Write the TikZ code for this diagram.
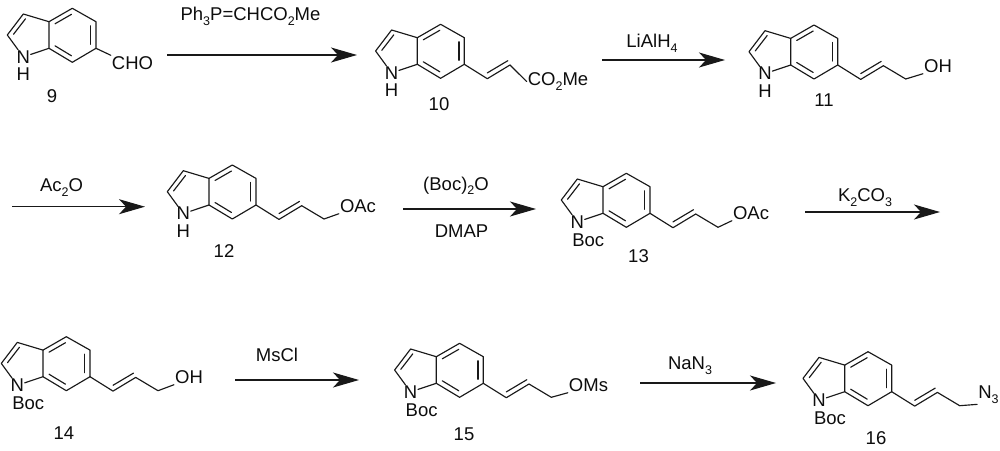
\documentclass[tikz,border=0pt]{standalone}
\usepackage{fontspec}
\setmainfont{Liberation Sans}
\usetikzlibrary{arrows.meta}
\newcommand\sbs[1]{\raisebox{-0.24em}{\fontsize{12.5}{12.5}\selectfont #1}}
\tikzset{
  x=1pt,y=-1pt,
  bond/.style={line width=1.15pt,draw=black!90,line cap=round,line join=round},
  atom/.style={inner sep=0.5pt,font=\fontsize{18.5}{20}\selectfont,text=black!95},
  lbl/.style={inner sep=0pt,font=\fontsize{18.5}{20}\selectfont,text=black!95},
  rxn/.style={line width=1.15pt,draw=black!90,-{Stealth[length=26pt,width=15pt,inset=7pt]}}
}
% #1 prefix, #2 x, #3 y of ring atom C6, #4 substituent label, #5 its dx, #6 its dy
\newcommand\indole[6]{%
\begin{scope}[shift={(#2,#3)}]
  \coordinate (#1c6) at (0,0);
  \coordinate (#1c5) at (0,-26.6);
  \coordinate (#1c4) at (-23.7,-40);
  \coordinate (#1c3a) at (-47,-26.6);
  \coordinate (#1c7a) at (-47,0);
  \coordinate (#1c7) at (-23.7,14);
  \coordinate (#1c3) at (-72.7,-34.3);
  \coordinate (#1c2) at (-88.7,-13.3);
  \node[atom] (#1n) at (-72.7,8.6) {N};
  \node[atom] (#1s) at (#5,#6) {#4};
  \draw[bond] (#1c6) -- (#1c5) -- (#1c4) -- (#1c3a) -- (#1c7a) -- (#1c7) -- (#1c6);
  \draw[bond] (#1c3a) -- (#1c3) -- (#1c2) -- (#1n) -- (#1c7a);
  \draw[bond] (-5.3,-22.5) -- (-5.3,-4);
  \draw[bond] (-41,-2.5) -- (-24.5,7.5);
  \draw[bond] (-41,-24.5) -- (-24.5,-34);
  \draw[bond] (-82.5,-14) -- (-70.5,-29.5);
  \coordinate (#1a) at (23,14.4);
  \coordinate (#1b) at (45.7,0.7);
  \coordinate (#1e) at (68,14);
  \coordinate (#1i) at (23,8.6);
  \coordinate (#1j) at (43.5,-3.6);
\end{scope}}
\newcommand\vinyl[1]{%
  \draw[bond] (#1c6) -- (#1a) -- (#1b);
  \draw[bond] (#1i) -- (#1j);}
\begin{document}
\begin{tikzpicture}
\useasboundingbox (0,0) rectangle (1000,450);
% 9
\indole{p}{96}{48.3}{H}{-72.7}{26}
\node[lbl,inner sep=1pt] (pcho) at (132.5,63) {CHO};
\draw[bond] (pc6) -- (pcho.north west);
\node[lbl] (p9) at (52,96) {9};
% 10
\indole{q}{464.3}{64.3}{H}{-72.7}{26}
\vinyl{q}
\node[lbl,inner sep=1pt] (qt) at (558,81.5) {CO\sbs{2}Me};
\draw[bond] (qb) -- (qt.west);
\node[lbl] (q10) at (439,104) {10};
% 11
\indole{r}{837.7}{65}{H}{-72.7}{26}
\vinyl{r}
\node[lbl,inner sep=1pt] (rt) at (938,66) {OH};
\draw[bond] (rb) -- (re) -- (rt.south west);
\node[lbl] (r11) at (824,100) {11};
% 12
\indole{s}{256}{205}{H}{-72.7}{26}
\vinyl{s}
\node[lbl,inner sep=1pt] (st) at (358,206) {OAc};
\draw[bond] (sb) -- (se) -- (st.south west);
\node[lbl] (s12) at (224,251) {12};
% 13
\indole{t}{650}{213.3}{Boc}{-61.7}{26.5}
\vinyl{t}
\node[lbl,inner sep=1pt] (tt) at (751,213) {OAc};
\draw[bond] (tb) -- (te) -- (tt.south west);
\node[lbl] (t13) at (638.5,256) {13};
% 14
\indole{u}{90}{376.7}{Boc}{-61.7}{26.5}
\vinyl{u}
\node[lbl,inner sep=1pt] (ut) at (189,377) {OH};
\draw[bond] (ub) -- (ue) -- (ut.south west);
\node[lbl] (u14) at (64,433) {14};
% 15
\indole{v}{483.3}{383.3}{Boc}{-61.7}{26.5}
\vinyl{v}
\node[lbl,inner sep=1pt] (vt) at (588.5,385) {OMs};
\draw[bond] (vb) -- (ve) -- (vt.south west);
\node[lbl] (v15) at (464,434) {15};
% 16
\indole{w}{891.7}{391.7}{Boc}{-61.7}{26.5}
\vinyl{w}
\node[lbl,inner sep=1pt] (wt) at (988.5,394.5) {N\sbs{3}};
\draw[bond] (wb) -- (we) -- (wt.south west);
\node[lbl] (w16) at (876,438) {16};
% reagents
\node[lbl] (l1) at (250.5,16.5) {Ph\sbs{3}P=CHCO\sbs{2}Me};
\node[lbl] (l2) at (652,43.5) {LiAlH\sbs{4}};
\node[lbl] (l3) at (61.5,187.5) {Ac\sbs{2}O};
\node[lbl] (l4) at (456,186) {(Boc)\sbs{2}O};
\node[lbl] (l5) at (461.5,231) {DMAP};
\node[lbl] (l6) at (865,197.5) {K\sbs{2}CO\sbs{3}};
\node[lbl] (l7) at (277,355) {MsCl};
\node[lbl] (l8) at (690,365.5) {NaN\sbs{3}};
% arrows
\coordinate (a1s) at (167,55); \coordinate (a1e) at (357,55);
\coordinate (a2s) at (602,60); \coordinate (a2e) at (725,60);
\coordinate (a3s) at (12,206.7); \coordinate (a3e) at (145,206.7);
\coordinate (a4s) at (403,209); \coordinate (a4e) at (536,209);
\coordinate (a5s) at (805,212); \coordinate (a5e) at (940,212);
\coordinate (a6s) at (235,380); \coordinate (a6e) at (359,380);
\coordinate (a7s) at (640,383); \coordinate (a7e) at (776,383);
\foreach \k in {1,...,7} \draw[rxn] (a\k s) -- (a\k e);
\end{tikzpicture}
\end{document}
